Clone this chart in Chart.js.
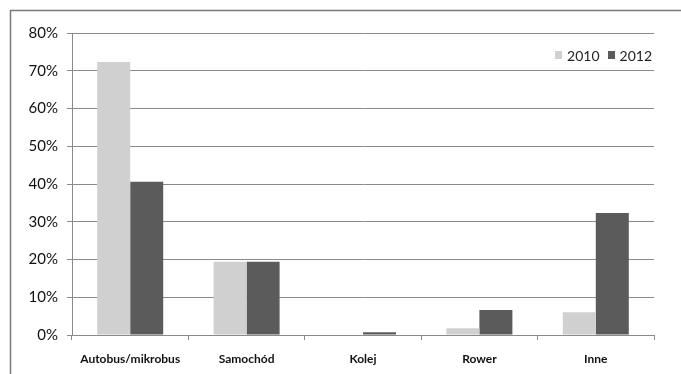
<!DOCTYPE html>
<html>
<head>
<meta charset="utf-8">
<script src="https://cdn.jsdelivr.net/npm/chart.js@4"></script>
<style>
  html, body { margin: 0; padding: 0; background: #ffffff; }
  #wrap { width: 681px; height: 374px; position: relative; }
</style>
</head>
<body>
<div id="wrap"><canvas id="c" width="681" height="374"></canvas></div>
<script>
// Sposób dojazdu — udział procentowy
const categories = ['Autobus/mikrobus', 'Samochód', 'Kolej', 'Rower', 'Inne'];
const seriesLabels = ['2010', '2012'];
const values2010 = [72.3, 19.4, 0, 1.8, 6.0];
const values2012 = [40.6, 19.4, 0.7, 6.6, 32.3];
const yTicks = [0, 10, 20, 30, 40, 50, 60, 70, 80];

const FONT = 'Lato, "Open Sans", sans-serif';
const GRID = '#8a8a8a';

// Frame drawn along the top and left edges of the figure
const framePlugin = {
  id: 'frame',
  beforeDraw(chart) {
    const ctx = chart.ctx;
    ctx.save();
    ctx.strokeStyle = '#7a7a7a';
    ctx.lineWidth = 1.5;
    ctx.beginPath();
    ctx.moveTo(10.5, 374);
    ctx.lineTo(10.5, 10.5);
    ctx.lineTo(681, 10.5);
    ctx.stroke();
    ctx.restore();
  }
};

// Legend placed inside the plot, top right
const insideLegend = {
  id: 'insideLegend',
  afterDraw(chart) {
    const ctx = chart.ctx;
    const area = chart.chartArea;
    ctx.save();
    ctx.font = '14px ' + FONT;
    ctx.textBaseline = 'middle';
    ctx.textAlign = 'left';
    const y = 55;
    const box = 7, gapBox = 5, gapItem = 8;
    const ds = chart.data.datasets;
    let total = 0;
    const widths = ds.map(d => ctx.measureText(d.label).width);
    widths.forEach((w, i) => { total += box + gapBox + w + (i < ds.length - 1 ? gapItem : 0); });
    let x = area.right - 2 - total;
    ds.forEach((d, i) => {
      ctx.fillStyle = d.backgroundColor;
      ctx.fillRect(Math.round(x), y - 4, box, 8);
      x += box + gapBox;
      ctx.fillStyle = '#222222';
      ctx.fillText(d.label, x, y + 1);
      x += widths[i] + gapItem;
    });
    ctx.restore();
  }
};

new Chart(document.getElementById('c'), {
  type: 'bar',
  data: {
    labels: categories,
    datasets: [
      { label: seriesLabels[0], data: values2010, backgroundColor: '#d0d0d0', borderWidth: 0 },
      { label: seriesLabels[1], data: values2012, backgroundColor: '#5b5b5b', borderWidth: 0 }
    ]
  },
  options: {
    responsive: false,
    animation: false,
    devicePixelRatio: 1,
    layout: { padding: { left: 0, top: 33, right: 27, bottom: 0 } },
    datasets: {
      bar: { categoryPercentage: 0.567, barPercentage: 1.0 }
    },
    plugins: {
      legend: { display: false },
      tooltip: { enabled: false },
      title: { display: false }
    },
    scales: {
      x: {
        afterFit(scale) { scale.height = 39; },
        grid: {
          offset: true,
          drawOnChartArea: false,
          drawTicks: true,
          tickLength: 5,
          color: GRID
        },
        border: { display: true, color: GRID, width: 1 },
        ticks: {
          color: '#111111',
          font: { family: FONT, size: 12, weight: 'bold' },
          padding: 12,
          maxRotation: 0,
          autoSkip: false
        }
      },
      y: {
        min: 0,
        max: 80,
        afterFit(scale) { scale.width = 72; },
        afterBuildTicks(scale) { scale.ticks = yTicks.map(v => ({ value: v })); },
        grid: {
          drawOnChartArea: true,
          drawTicks: true,
          tickLength: 5,
          color: GRID,
          lineWidth: 1
        },
        border: { display: true, color: GRID, width: 1 },
        ticks: {
          color: '#111111',
          font: { family: FONT, size: 15 },
          padding: 9,
          callback: v => v + '%'
        }
      }
    }
  },
  plugins: [framePlugin, insideLegend]
});
</script>
</body>
</html>
